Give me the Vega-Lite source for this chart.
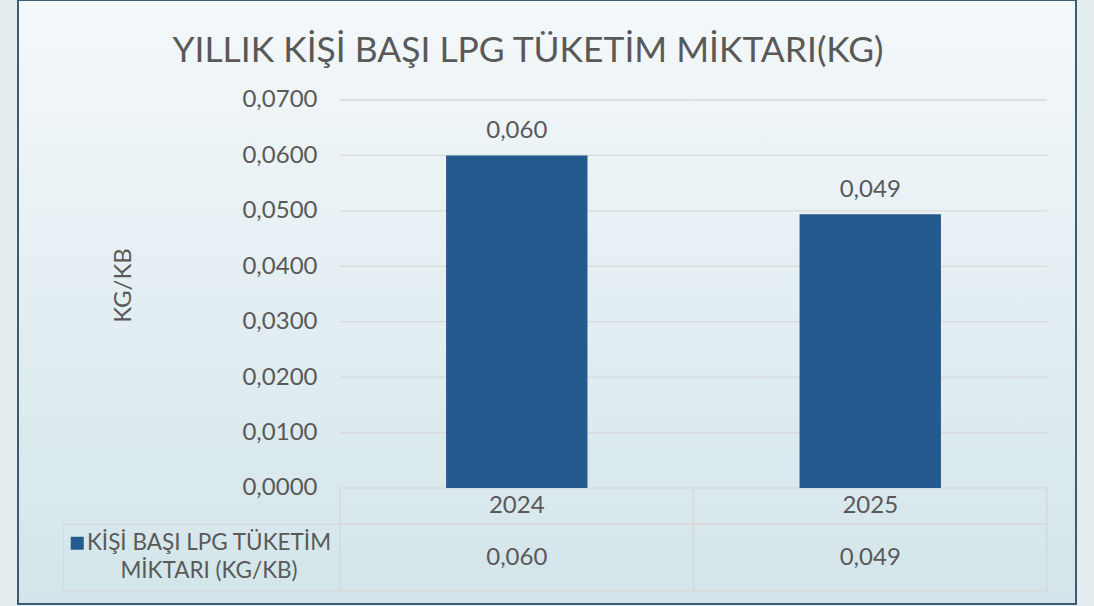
{
  "$schema": "https://vega.github.io/schema/vega-lite/v6.json",
  "width": 1058,
  "height": 604,
  "autosize": {"type": "none"},
  "padding": {"left": 18, "top": 0, "right": 18, "bottom": 2},
  "background": "#e4eef1",
  "config": {
    "locale": {"number": {"decimal": ",", "thousands": ".", "grouping": [3], "currency": ["", " ₺"]}},
    "font": "Lato",
    "view": {
      "stroke": "#3d5b73",
      "strokeWidth": 2,
      "fill": {"gradient": "linear", "x1": 0, "y1": 0, "x2": 0, "y2": 1, "stops": [{"offset": 0, "color": "#f4f8fa"}, {"offset": 1, "color": "#d3e5ea"}]}
    },
    "style": {"guide-label": {"lineHeight": 28}},
    "text": {"font": "Lato", "fontSize": 24, "color": "#595959"}
  },
  "title": {
    "text": "YILLIK KİŞİ BAŞI LPG TÜKETİM MİKTARI(KG)",
    "fontSize": 35.4,
    "fontWeight": "normal",
    "color": "#595959",
    "font": "Lato",
    "anchor": "middle",
    "frame": "group",
    "baseline": "alphabetic",
    "offset": -97,
    "dx": -19
  },
  "datasets": {
    "main": [
      {"year": "2024", "value": 0.060, "series": "KİŞİ BAŞI LPG TÜKETİM MİKTARI (KG/KB)"},
      {"year": "2025", "value": 0.0494, "series": "KİŞİ BAŞI LPG TÜKETİM MİKTARI (KG/KB)"}
    ],
    "grid": [
      {"year": "2024", "v": 0.01}, {"year": "2025", "v": 0.01},
      {"year": "2024", "v": 0.02}, {"year": "2025", "v": 0.02},
      {"year": "2024", "v": 0.03}, {"year": "2025", "v": 0.03},
      {"year": "2024", "v": 0.04}, {"year": "2025", "v": 0.04},
      {"year": "2024", "v": 0.05}, {"year": "2025", "v": 0.05},
      {"year": "2024", "v": 0.06}, {"year": "2025", "v": 0.06},
      {"year": "2024", "v": 0.07}, {"year": "2025", "v": 0.07}
    ]
  },
  "layer": [
    {
      "data": {"name": "grid"},
      "mark": {"type": "rect", "fillOpacity": 0, "stroke": "#d9d9d9", "strokeWidth": 1.3},
      "encoding": {
        "x": {"field": "year", "type": "nominal", "scale": {"domain": ["2024", "2025"], "paddingInner": 0, "paddingOuter": 0.4965, "align": 0.9174}, "axis": null},
        "y": {
          "field": "v", "type": "quantitative",
          "scale": {"domain": [-0.020928, 0.088041], "nice": false, "zero": false},
          "axis": {
            "values": [0, 0.01, 0.02, 0.03, 0.04, 0.05, 0.06, 0.07],
            "format": ".4f",
            "offset": -322,
            "domain": false,
            "ticks": false,
            "grid": false,
            "labelPadding": 23,
            "labelFontSize": 24,
            "labelColor": "#595959",
            "labelFont": "Lato",
            "title": "KG/KB",
            "titleFontSize": 24,
            "titleFontWeight": "normal",
            "titleColor": "#595959",
            "titleFont": "Lato",
            "titlePadding": 106,
            "titleY": 285
          }
        },
        "y2": {"field": "v"}
      }
    },
    {
      "data": {"name": "main"},
      "mark": {"type": "rect", "fillOpacity": 0, "stroke": "#d9d9d9", "strokeWidth": 1.5},
      "encoding": {
        "x": {"field": "year", "type": "nominal"},
        "y": {"datum": 0, "type": "quantitative"},
        "y2": {"datum": -0.006495}
      }
    },
    {
      "data": {"name": "main"},
      "mark": {"type": "rect", "fillOpacity": 0, "stroke": "#d9d9d9", "strokeWidth": 1.5},
      "encoding": {
        "x": {"field": "year", "type": "nominal"},
        "y": {"datum": -0.006495, "type": "quantitative"},
        "y2": {"datum": -0.018583}
      }
    },
    {
      "data": {"name": "main"},
      "mark": {"type": "bar", "width": {"band": 0.4}},
      "encoding": {
        "x": {"field": "year", "type": "nominal"},
        "y": {"field": "value", "type": "quantitative"},
        "y2": {"datum": 0},
        "color": {
          "field": "series", "type": "nominal",
          "scale": {"range": ["#255a8f"]},
          "legend": {
            "orient": "none",
            "legendX": 45,
            "legendY": 524,
            "title": null,
            "direction": "vertical",
            "symbolType": "square",
            "symbolSize": 169,
            "symbolStrokeWidth": 0,
            "symbolOffset": -5,
            "labelFontSize": 22.5,
            "labelColor": "#595959",
            "labelFont": "Lato",
            "labelAlign": "center",
            "labelOffset": 120.5,
            "labelLimit": 400,
            "labelExpr": "[slice(datum.label, 0, 21), slice(datum.label, 22)]",
            "strokeColor": "#d9d9d9",
            "padding": 8
          }
        }
      }
    },
    {
      "data": {"name": "main"},
      "mark": {"type": "text", "baseline": "alphabetic", "dy": -17, "fontSize": 24, "color": "#595959"},
      "encoding": {
        "x": {"field": "year", "type": "nominal"},
        "y": {"field": "value", "type": "quantitative"},
        "text": {"field": "value", "type": "quantitative", "format": ".3f"}
      }
    },
    {
      "data": {"name": "main"},
      "mark": {"type": "text", "baseline": "middle", "fontSize": 24, "color": "#595959"},
      "encoding": {
        "x": {"field": "year", "type": "nominal"},
        "y": {"datum": -0.003247, "type": "quantitative"},
        "text": {"field": "year", "type": "nominal"}
      }
    },
    {
      "data": {"name": "main"},
      "mark": {"type": "text", "baseline": "middle", "fontSize": 24, "color": "#595959"},
      "encoding": {
        "x": {"field": "year", "type": "nominal"},
        "y": {"datum": -0.01254, "type": "quantitative"},
        "text": {"field": "value", "type": "quantitative", "format": ".3f"}
      }
    }
  ]
}
